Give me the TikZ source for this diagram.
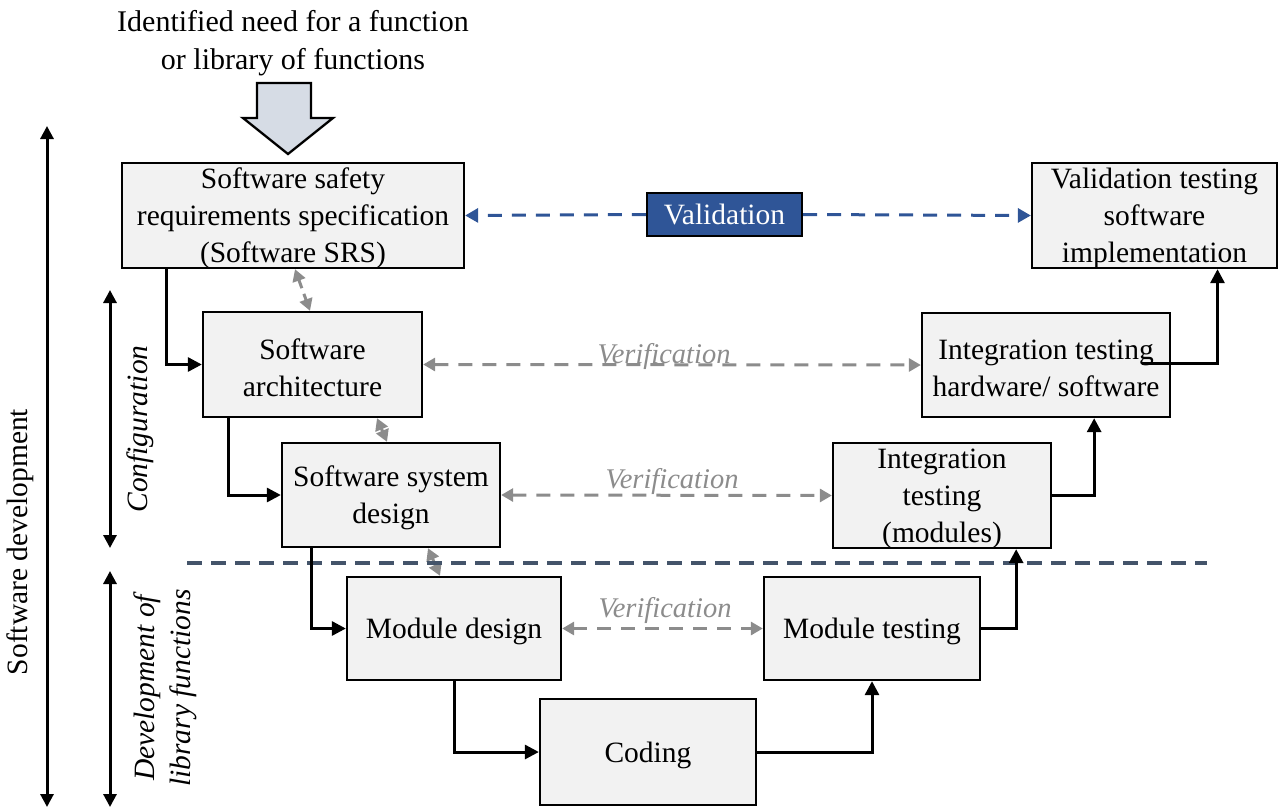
\documentclass[tikz,border=0pt]{standalone}
\usepackage{fontspec}
\setmainfont{Liberation Serif}
\usetikzlibrary{arrows.meta}
\definecolor{boxfill}{HTML}{F2F2F2}
\definecolor{valblue}{HTML}{2F5597}
\definecolor{vergray}{HTML}{8C8C8C}
\definecolor{sepline}{HTML}{44546A}
\definecolor{needfill}{HTML}{D6DCE5}
\begin{document}
\begin{tikzpicture}[x=1pt,y=-1pt,
  txt/.style={font=\fontsize{29.5}{37}\selectfont, align=center, inner sep=0pt},
  stage/.style={draw=black, line width=2.3pt, fill=boxfill, inner sep=0pt, minimum width=#1},
  stagetext/.style={txt, yshift=-3pt},
  flow/.style={line width=3pt, -{Triangle[length=14pt,width=14pt]}},
  ver/.style={draw=vergray, line width=3pt, dash pattern=on 14pt off 10pt,
    {Triangle[length=12pt,width=13pt]}-{Triangle[length=12pt,width=13pt]}},
  shortver/.style={ver, dash pattern=on 9pt off 6pt},
  verlbl/.style={font=\fontsize{28.5}{34}\selectfont\itshape, text=vergray, inner sep=0pt, anchor=base},
  val/.style={draw=valblue, line width=3pt, dash pattern=on 14pt off 10pt, -{Triangle[length=13pt,width=14pt]}},
  span/.style={line width=3pt, {Triangle[length=13pt,width=13pt]}-{Triangle[length=13pt,width=13pt]}},
  side/.style={font=\fontsize{29.5}{36}\selectfont, align=center, inner sep=0pt, rotate=90}
]
\useasboundingbox (0,0) rectangle (1279,809);

% incoming need
\node[txt, font=\fontsize{30}{38}\selectfont] (need) at (293,43) {Identified need for a function\\or library of functions};
\draw[fill=needfill, line width=2.3pt, line join=miter]
  (257,83) -- (311,83) -- (311,118) -- (333,118) -- (288,154) -- (243,118) -- (257,118) -- cycle;

% process stages
\node[stage=342pt, minimum height=105pt,
  label={[stagetext]center:{Software safety\\requirements specification\\(Software SRS)}}] (srs) at (293,215.5) {};
\node[stage=245pt, minimum height=105pt,
  label={[stagetext]center:{Validation testing\\software\\implementation}}] (valtest) at (1154.5,215.5) {};
\node[stage=219pt, minimum height=105pt,
  label={[stagetext]center:{Software\\architecture}}] (arch) at (312.5,364.5) {};
\node[stage=218pt, minimum height=104pt,
  label={[stagetext]center:{Software system\\design}}] (sysd) at (391,495) {};
\node[stage=248pt, minimum height=104pt,
  label={[stagetext]center:{Integration testing\\hardware/ software}}] (inthw) at (1046,365) {};
\node[stage=218pt, minimum height=105pt,
  label={[stagetext]center:{Integration\\testing\\(modules)}}] (intmod) at (942,495.5) {};
\node[stage=214pt, minimum height=103pt,
  label={[stagetext]center:{Module design}}] (moddes) at (454,628.5) {};
\node[stage=216pt, minimum height=103pt,
  label={[stagetext]center:{Module testing}}] (modtest) at (872,628.5) {};
\node[stage=216pt, minimum height=106pt,
  label={[stagetext]center:{Coding}}] (coding) at (648,752) {};

% validation link
\node[txt, draw=black, line width=2.3pt, fill=valblue, text=white, minimum width=155pt, minimum height=43pt]
  (valid) at (724.5,214.5) {Validation};
\draw[val] (valid.west) -- (srs.east);
\draw[val] (valid.east) -- (valtest.west);

% verification links
\draw[ver] (arch.east) -- (inthw.west);
\draw[ver] (sysd.east) -- (intmod.west);
\draw[ver] (moddes.east) -- (modtest.west);
\node[verlbl] (v1) at (664,363) {Verification};
\node[verlbl] (v2) at (672,488) {Verification};
\node[verlbl] (v3) at (665,617) {Verification};

% links between neighbouring design levels
\draw[shortver] ([xshift=2pt]srs.south) -- ([xshift=-2.5pt]arch.north);
\draw[shortver] ([xshift=64.5pt]arch.south) -- ([xshift=-4pt]sysd.north);
\draw[shortver] ([xshift=37pt]sysd.south) -- ([xshift=-14pt]moddes.north);

% separator between configuration and library development
\coordinate (sepL) at (187,563);
\coordinate (sepR) at (1207,563);
\draw[sepline, line width=3.3pt, dash pattern=on 15pt off 9pt] (sepL) -- (sepR);

% process flow
\draw[flow] ([xshift=46pt]srs.south west) |- (arch.west);
\draw[flow] ([xshift=27pt]arch.south west) |- (sysd.west);
\draw[flow] ([xshift=31pt]sysd.south west) |- (moddes.west);
\draw[flow] (moddes.south) |- (coding.west);
\draw[flow] (coding.east) -| (modtest.south);
\draw[flow] (modtest.east) -| ([xshift=-36pt]intmod.south east);
\draw[flow] (intmod.east) -| ([xshift=-77pt]inthw.south east);
\coordinate (hwout) at (1142,363);
\draw[flow] (hwout) -| ([xshift=63pt]valtest.south);

% scope brackets on the left
\coordinate (sdTop) at (47,126);
\coordinate (sdBot) at (47,807);
\draw[span] (sdTop) -- (sdBot);
\coordinate (cfTop) at (110,290);
\coordinate (cfBot) at (110,548);
\draw[span] (cfTop) -- (cfBot);
\coordinate (dlTop) at (110,571);
\coordinate (dlBot) at (110,807);
\draw[span] (dlTop) -- (dlBot);

\node[side] (sdlbl) at (20,542) {Software development};
\node[side, font=\fontsize{29.5}{36}\selectfont\itshape] (cflbl) at (140,429) {Configuration};
\node[side, font=\fontsize{29.5}{36}\selectfont\itshape] (dllbl) at (165,688) {Development of\\library functions};
\end{tikzpicture}
\end{document}
